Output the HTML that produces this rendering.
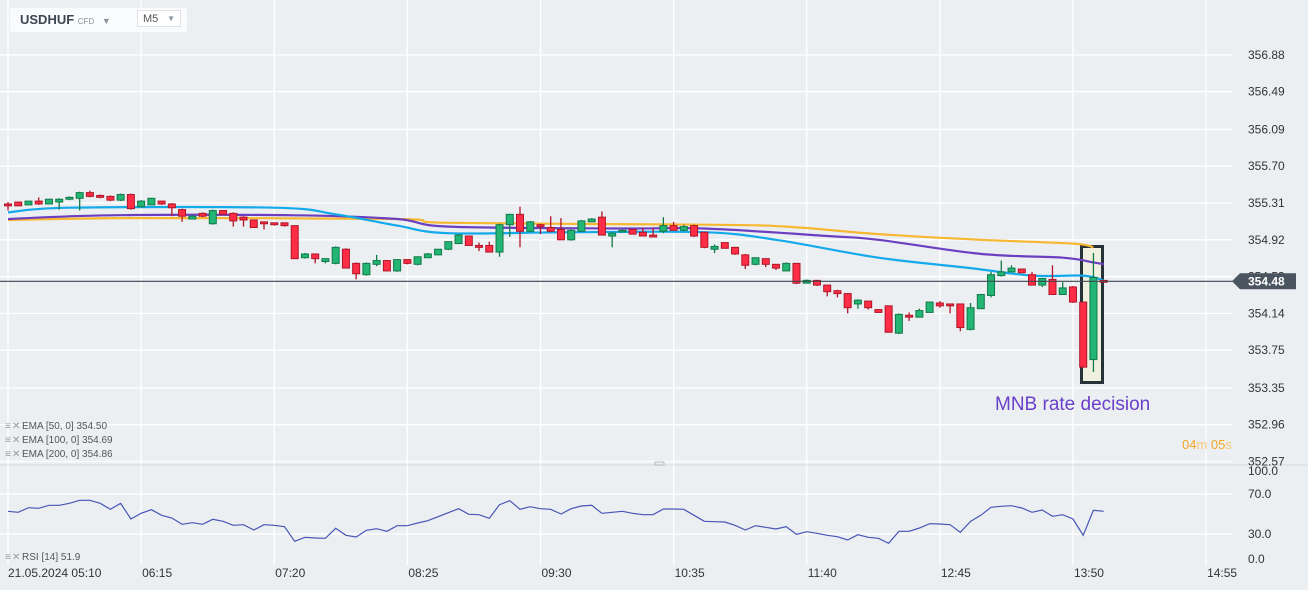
<!DOCTYPE html>
<html><head><meta charset="utf-8"><style>
html,body{margin:0;padding:0;background:#eceff2;width:1308px;height:590px;overflow:hidden;font-family:"Liberation Sans",sans-serif}
#wrap{position:relative;width:1308px;height:590px}
svg{position:absolute;left:0;top:0}
.tb{position:absolute;left:10px;top:8px;width:177px;height:24px;background:#fafbfc;border-radius:3px;white-space:nowrap}
</style></head><body>
<div id="wrap">
<svg id="chart" width="1308" height="590"></svg>
<div class="tb">
  <span style="position:absolute;left:10px;top:4px;font-size:13px;font-weight:bold;color:#3a4652;white-space:nowrap">USDHUF <span style="font-size:8px;color:#8a949e;font-weight:normal">CFD</span> <span style="font-size:9px;color:#8a949e;margin-left:4px">▼</span></span>
  <span style="position:absolute;left:127px;top:2px;width:44px;height:17px;border:1px solid #dfe3e7;background:#fff;font-size:11px;color:#555;line-height:16px;padding-left:5px;box-sizing:border-box;white-space:nowrap">M5<span style="position:absolute;right:5px;top:0;font-size:8px;color:#8a949e">▼</span></span>
</div>
</div>
<script>
const opens=[355.30,355.32,355.29,355.33,355.30,355.32,355.35,355.36,355.42,355.39,355.38,355.34,355.40,355.27,355.29,355.33,355.30,355.24,355.14,355.20,355.09,355.23,355.20,355.16,355.13,355.11,355.10,355.10,355.07,354.73,354.77,354.69,354.67,354.82,354.67,354.55,354.66,354.70,354.59,354.71,354.66,354.73,354.76,354.82,354.88,354.96,354.86,354.86,354.79,355.08,355.19,355.01,355.08,355.05,355.03,354.92,355.01,355.11,355.16,354.96,355.01,355.03,355.00,354.97,355.01,355.07,355.02,355.07,355.00,354.82,354.89,354.84,354.76,354.66,354.72,354.66,354.59,354.67,354.46,354.49,354.44,354.38,354.35,354.24,354.27,354.18,354.22,353.93,354.12,354.10,354.15,354.25,354.24,354.24,353.97,354.19,354.33,354.54,354.58,354.61,354.55,354.44,354.50,354.34,354.42,354.26,353.65,354.49];
const closes=[355.28,355.28,355.33,355.30,355.35,355.35,355.37,355.42,355.38,355.37,355.34,355.40,355.25,355.33,355.36,355.30,355.26,355.17,355.17,355.17,355.23,355.19,355.12,355.13,355.05,355.09,355.08,355.07,354.72,354.77,354.72,354.72,354.84,354.62,354.56,354.67,354.70,354.59,354.71,354.67,354.74,354.77,354.82,354.90,354.97,354.86,354.84,354.79,355.08,355.19,355.01,355.11,355.06,355.01,354.92,355.02,355.12,355.14,354.97,354.99,355.02,354.98,354.96,354.95,355.07,355.02,355.06,354.96,354.84,354.85,354.83,354.77,354.65,354.73,354.66,354.62,354.67,354.46,354.49,354.44,354.37,354.35,354.20,354.28,354.20,354.15,353.94,354.13,354.10,354.17,354.26,354.22,354.22,353.99,354.20,354.34,354.55,354.58,354.62,354.57,354.44,354.51,354.34,354.41,354.26,353.57,354.52,354.47];
const highs=[355.32,355.32,355.33,355.37,355.35,355.36,355.38,355.43,355.44,355.40,355.39,355.41,355.41,355.34,355.36,355.33,355.31,355.25,355.18,355.21,355.24,355.23,355.21,355.17,355.13,355.11,355.10,355.10,355.07,354.78,354.77,354.72,354.85,354.83,354.68,354.68,354.76,354.70,354.71,354.71,354.74,354.78,354.82,354.90,354.98,354.96,354.89,354.90,355.09,355.19,355.27,355.12,355.09,355.17,355.15,355.03,355.13,355.15,355.22,355.00,355.03,355.03,355.05,355.05,355.16,355.11,355.08,355.08,355.00,354.87,354.89,354.84,354.77,354.73,354.72,354.66,354.68,354.67,354.50,354.49,354.44,354.39,354.35,354.29,354.27,354.18,354.22,354.14,354.15,354.19,354.26,354.27,354.24,354.24,354.25,354.34,354.58,354.70,354.65,354.61,354.58,354.51,354.65,354.47,354.43,354.26,354.78,354.49];
const lows=[355.23,355.28,355.29,355.29,355.30,355.24,355.34,355.23,355.37,355.36,355.33,355.33,355.24,355.27,355.29,355.29,355.17,355.11,355.14,355.16,355.08,355.19,355.06,355.06,355.05,355.03,355.07,355.06,354.72,354.72,354.67,354.67,354.66,354.62,354.50,354.54,354.64,354.59,354.58,354.66,354.65,354.73,354.76,354.81,354.88,354.86,354.80,354.79,354.74,354.95,354.84,355.00,354.98,355.00,354.92,354.91,355.01,355.11,354.97,354.84,355.00,354.98,354.96,354.95,354.99,355.02,355.01,354.95,354.83,354.78,354.83,354.76,354.61,354.65,354.63,354.60,354.59,354.45,354.46,354.43,354.32,354.31,354.14,354.19,354.18,354.15,353.94,353.92,354.06,354.10,354.15,354.20,354.14,353.95,353.96,354.19,354.31,354.53,354.58,354.57,354.44,354.42,354.34,354.34,354.25,353.57,353.52,354.47];
const ema50Idx=[0,6,26,32,38,43,55,68,75,85,94,100,105,107];
const ema50Val=[355.21,355.26,355.26,355.19,355.07,354.99,355.00,355.00,354.92,354.73,354.62,354.54,354.54,354.49];
const ema100Idx=[0,10,28,38,43,60,68,80,85,95,103,106,107];
const ema100Val=[355.14,355.18,355.18,355.14,355.06,355.04,355.04,354.96,354.92,354.77,354.73,354.68,354.66];
const ema200Idx=[0,12,38,43,68,76,85,95,104,106];
const ema200Val=[355.13,355.15,355.14,355.10,355.08,355.06,354.98,354.92,354.88,354.84];
const rsiVals=[52.7,51.7,56.3,55.7,58.7,58.7,60.7,63.7,63.7,60.7,54.7,60.7,45,50.7,54.3,48.7,46,39.7,41.3,39.7,44.7,42.7,38.7,39.3,34,39.3,38.7,37.3,22.7,26.7,26,25.7,35.7,28.7,27,33.7,35.3,32.7,38.3,38.3,41,43.3,47.3,51.3,55.3,49.7,49.3,45.7,59.3,63.3,54.7,57.3,55.3,54.7,50,55.3,58,58.7,50.7,51.7,52.7,50.7,49.3,49.3,55,55,54.7,48.7,42.7,42.3,42,38.7,34,38.3,36.7,35,37.3,29.7,32.3,30.7,28.7,27.3,24,29.3,26.7,25.7,20.7,32.7,32.7,36,40.3,40,39.3,31.7,42.7,48.7,56.7,57.7,58.3,56,51.7,54,47.7,49.3,45,28.7,53.7,52.7];
const priceTicks=[356.88,356.49,356.09,355.70,355.31,354.92,354.53,354.14,353.75,353.35,352.96,352.57];
const rsiTicks=[100,70,30,0];
const rsiTickLabels=["100.0","70.0","30.0","0.0"];
const timeLabels=["21.05.2024  05:10","06:15","07:20","08:25","09:30","10:35","11:40","12:45","13:50","14:55"];
const lastPrice=354.48;

const NS="http://www.w3.org/2000/svg";
const svg=document.getElementById('chart');
function mk(t,a,p){const e=document.createElementNS(NS,t);for(const k in a)e.setAttribute(k,a[k]);(p||svg).appendChild(e);return e;}
const X=i=>8+i*10.24;
const Y=p=>203+(355.31-p)/0.0106;
const RY=v=>534-(v-30);

const grid=mk('g',{});


timeLabels.forEach((t,k)=>{const x=X(k*13);mk('line',{x1:x,x2:x,y1:0,y2:565,stroke:'#fff','stroke-width':1.3},grid);});
priceTicks.forEach(p=>{mk('line',{x1:0,x2:1232,y1:Y(p),y2:Y(p),stroke:'#fff','stroke-width':1.3},grid);});
[70,30].forEach(v=>mk('line',{x1:0,x2:1232,y1:RY(v),y2:RY(v),stroke:'#fff','stroke-width':1.3},grid));
mk('line',{x1:0,x2:1308,y1:465,y2:465,stroke:'#d5dade','stroke-width':1},grid);

const hb=mk('rect',{x:1081.5,y:246.5,width:21,height:136,fill:'#f0f0e0',stroke:'#263238','stroke-width':3});



function emaLine(idx,vals,color,name){
  const pts=idx.map((i,k)=>[X(i),Y(vals[k])]);
  let d='M'+pts[0][0].toFixed(1)+' '+pts[0][1].toFixed(1);
  for(let k=0;k<pts.length-1;k++){
    const p0=pts[Math.max(0,k-1)],p1=pts[k],p2=pts[k+1],p3=pts[Math.min(pts.length-1,k+2)];
    const c1=[p1[0]+(p2[0]-p0[0])/6,p1[1]+(p2[1]-p0[1])/6];
    const c2=[p2[0]-(p3[0]-p1[0])/6,p2[1]-(p3[1]-p1[1])/6];
    d+=`C${c1[0].toFixed(1)} ${c1[1].toFixed(1)} ${c2[0].toFixed(1)} ${c2[1].toFixed(1)} ${p2[0].toFixed(1)} ${p2[1].toFixed(1)}`;
  }
  const p=mk('path',{d:d,fill:'none',stroke:color,'stroke-width':2.2,'stroke-linejoin':'round'});
  
  
}
emaLine(ema200Idx,ema200Val,'#f7b731','ema-200-line');
emaLine(ema100Idx,ema100Val,'#6c3fc0','ema-100-line');
emaLine(ema50Idx,ema50Val,'#14a9ea','ema-50-line');

const cg=mk('g',{});


opens.forEach((o,i)=>{
  const c=closes[i],up=c>=o;
  const fill=up?'#22b573':'#ff2d45',st=up?'#117a4a':'#b01528';
  const x=X(i);
  mk('line',{x1:x,x2:x,y1:Y(highs[i]),y2:Y(lows[i]),stroke:st,'stroke-width':1.3},cg);
  const top=Y(Math.max(o,c)),bot=Y(Math.min(o,c));
  const r=mk('rect',{x:x-3.5,y:top,width:7,height:Math.max(1.5,bot-top),fill:fill,stroke:st,'stroke-width':1},cg);
  
  
});

const ly=Y(lastPrice);
const lpl=mk('line',{x1:0,x2:1240,y1:ly,y2:ly,stroke:'#3d4750','stroke-width':1.2});



const pa=mk('g',{'font-size':12,fill:'#333','font-family':'Liberation Sans, sans-serif'});


priceTicks.forEach(p=>{const t=mk('text',{x:1248,y:Y(p)+4},pa);t.textContent=p.toFixed(2);});
const tag=mk('path',{d:`M1232 ${ly} L1240 ${ly-8} L1296 ${ly-8} L1296 ${ly+8} L1240 ${ly+8} Z`,fill:'#4a5560'});


const tt=mk('text',{x:1248,y:ly+4,'font-size':12,'font-weight':'bold',fill:'#fff'});tt.textContent=lastPrice.toFixed(2);

const an=mk('text',{x:995,y:410,'font-size':19,fill:'#6a3fc9'});an.textContent='MNB rate decision';


const tm=mk('text',{x:1182,y:449,'font-size':13,fill:'#f5a623'});
tm.innerHTML='04<tspan fill="#f7c97a">m</tspan> 05<tspan fill="#f7c97a">s</tspan>';



const legs=[['EMA  [50, 0]  354.50',429],['EMA  [100, 0]  354.69',443],['EMA  [200, 0]  354.86',457],['RSI  [14]  51.9',560]];
legs.forEach((l,k)=>{
  const g=mk('g',{'font-size':10,fill:'#555'});
  
  
  const a=mk('text',{x:5,y:l[1],fill:'#999','font-size':10},g);a.textContent='≡';
  const b=mk('text',{x:12,y:l[1],fill:'#999','font-size':10},g);b.textContent='✕';
  const c=mk('text',{x:22,y:l[1]},g);c.textContent=l[0];
});

let d='';rsiVals.forEach((v,i)=>{d+=(i?'L':'M')+X(i).toFixed(1)+' '+RY(v).toFixed(1);});
const rl=mk('path',{d:d,fill:'none',stroke:'#4756b5','stroke-width':1.2});


const ra=mk('g',{'font-size':12,fill:'#333'});


const rpos=[471,494,534,559];
rsiTicks.forEach((v,k)=>{const t=mk('text',{x:1248,y:rpos[k]+4},ra);t.textContent=rsiTickLabels[k];});
mk('rect',{x:655,y:462,width:9,height:3,fill:'none',stroke:'#aab','stroke-width':0.8});

const ta=mk('g',{'font-size':12,fill:'#333'});


timeLabels.forEach((t,k)=>{const e=mk('text',{x:k===0?8:X(k*13)+1,y:577,'xml:space':'preserve'},ta);e.textContent=t;});
</script>
</body></html>
